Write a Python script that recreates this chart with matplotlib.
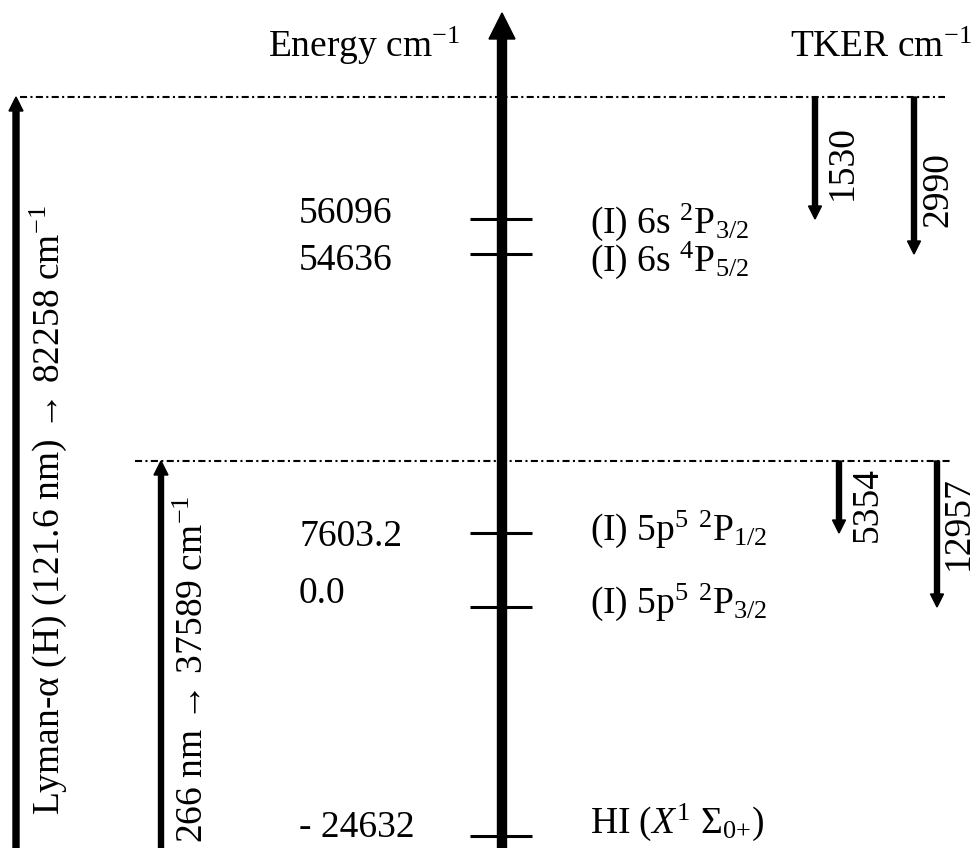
""" Energy level diagram for HI photodissociation (Lyman-alpha and 266 nm). """
import matplotlib
matplotlib.use('Agg')
import matplotlib.pyplot as plt

plt.rcParams['font.family'] = ['Liberation Serif', 'DejaVu Serif']
plt.rcParams['mathtext.fontset'] = 'custom'
plt.rcParams['mathtext.rm'] = 'Liberation Serif'
plt.rcParams['mathtext.it'] = 'Liberation Serif:italic'
plt.rcParams['mathtext.bf'] = 'Liberation Serif:bold'

# Data
energies = [56096, 54636, 7603.2, 0.0, -24632]
energy_labels = ['56096', '54636', '7603.2', '0.0', '- 24632']
state_labels = [r'(I) 6s $^{2}$P$_{3/2}$',
                r'(I) 6s $^{4}$P$_{5/2}$',
                r'(I) 5p$^{5}$ $^{2}$P$_{1/2}$',
                r'(I) 5p$^{5}$ $^{2}$P$_{3/2}$',
                r'HI ($X^{1}$ $\Sigma_{0{+}}$)']
photon_labels = [r'Lyman-α (H) (121.6 nm) → 82258 cm$^{-1}$',
                 r'266 nm → 37589 cm$^{-1}$']
tker_values = [1530, 2990, 5354, 12957]
tker_level = [0, 1, 2, 3]      # level reached by each TKER arrow
tker_photon = [0, 0, 1, 1]     # photon (threshold line) each arrow starts from

# Layout (diagram is not to scale, pixel units)
level_y = [219, 254, 533, 607, 836]
value_baseline = [223, 270, 546, 603, 837]
state_baseline = [233, 271, 540, 613, 833]
threshold_y = [97, 461]
threshold_x0 = [20, 135]
threshold_x1 = [945, 950]
photon_arrow_x = [16, 161]
photon_arrow_w = [6, 5]
photon_label_x = [59, 203]
photon_label_y = [510, 669]
tker_arrow_x = [815, 914, 839, 937]
tker_label_x = [852, 947, 877, 968]
tker_label_y = [163, 190, 504, 523]
axis_x = 502
fs = 27

fig = plt.figure(figsize=(9.76, 8.48), dpi=100)
ax = fig.add_axes([0, 0, 1, 1])
ax.set_xlim(0, 976)
ax.set_ylim(848, 0)
ax.axis('off')

# Energy axis
ax.arrow(axis_x, 860, 0, 13 - 860, width=9, head_width=26, head_length=26,
         length_includes_head=True, color='black', zorder=5)
ax.text(460, 57, r'Energy cm$^{-1}$', fontsize=fs, ha='right', va='baseline')
ax.text(972, 57, r'TKER cm$^{-1}$', fontsize=fs, ha='right', va='baseline')

# Levels
for y, vlab, vy, slab, sy in zip(level_y, energy_labels, value_baseline,
                                 state_labels, state_baseline):
    ax.plot([470, 532], [y, y], color='black', lw=2.2, solid_capstyle='butt')
    ax.text(299, vy, vlab, fontsize=fs, ha='left', va='baseline')
    ax.text(590, sy, slab, fontsize=fs, ha='left', va='baseline')

# Photon energies (dash-dot threshold lines) and excitation arrows
for i, lab in enumerate(photon_labels):
    y = threshold_y[i]
    ax.plot([threshold_x0[i], threshold_x1[i]], [y, y], color='black', lw=1.5,
            linestyle=(0, (3.4, 1.6, 1, 1.6)))
    ax.arrow(photon_arrow_x[i], 860, 0, y - 860, width=photon_arrow_w[i],
             head_width=14, head_length=14, length_includes_head=True,
             color='black')
    ax.text(photon_label_x[i], photon_label_y[i], lab, fontsize=fs,
            rotation=90, rotation_mode='anchor', ha='center', va='baseline')

# TKER arrows
for val, lev, ph, x, lx, ly in zip(tker_values, tker_level, tker_photon,
                                   tker_arrow_x, tker_label_x, tker_label_y):
    y0 = threshold_y[ph]
    y1 = level_y[lev]
    ax.arrow(x, y0, 0, y1 - y0, width=5, head_width=13, head_length=13,
             length_includes_head=True, color='black')
    ax.text(lx, ly, f'{val}', fontsize=fs, rotation=90, rotation_mode='anchor',
            ha='center', va='baseline')

fig.savefig('out.png', dpi=100)
